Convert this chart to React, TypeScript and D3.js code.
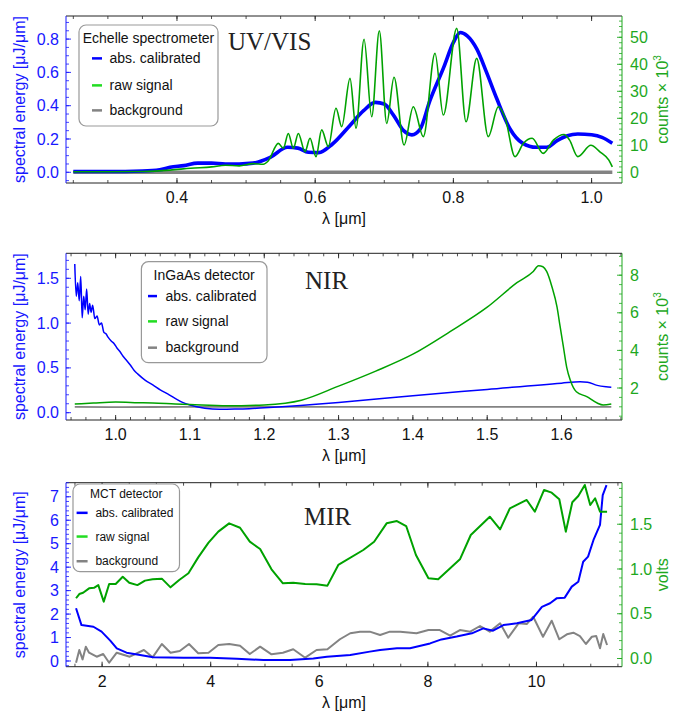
import React from "react";
import * as d3 from "d3";

type Pt = [number, number];

// ---------- UV/VIS (Echelle spectrometer) ----------
const uvCalibrated: Pt[] = [
  [0.25, 0.005], [0.3, 0.005], [0.35, 0.008], [0.375, 0.015], [0.39, 0.03], [0.41, 0.04],
  [0.43, 0.055], [0.45, 0.055], [0.47, 0.05], [0.49, 0.05], [0.51, 0.055], [0.535, 0.09],
  [0.56, 0.15], [0.575, 0.145], [0.59, 0.12], [0.605, 0.118], [0.625, 0.17], [0.65, 0.28],
  [0.67, 0.37], [0.687, 0.42], [0.7, 0.41], [0.713, 0.345], [0.728, 0.25], [0.74, 0.225],
  [0.752, 0.26], [0.766, 0.43], [0.786, 0.63], [0.8, 0.78], [0.81, 0.84], [0.82, 0.82],
  [0.834, 0.74], [0.848, 0.6], [0.863, 0.44], [0.882, 0.26], [0.9, 0.175], [0.92, 0.15],
  [0.935, 0.15], [0.95, 0.19], [0.965, 0.22], [0.98, 0.23], [1.0, 0.225], [1.015, 0.21],
  [1.03, 0.175],
];
const uvRaw: Pt[] = [
  [0.25, 0.2], [0.3, 0.2], [0.35, 0.3], [0.39, 0.8], [0.42, 1.5], [0.45, 2.0], [0.47, 2.6],
  [0.49, 2.4], [0.51, 3.2], [0.525, 3.0], [0.532, 4.2], [0.5467, 10.7], [0.5539, 8.9],
  [0.5611, 14.4], [0.5684, 8.9], [0.5756, 14.4], [0.5853, 7.6], [0.5925, 12.6], [0.6012, 5.8],
  [0.6094, 15.7], [0.619, 9.5], [0.6301, 23.7], [0.6384, 16.9], [0.6504, 34.8], [0.6591, 16.3],
  [0.6707, 49.3], [0.6818, 20.6], [0.6928, 52.4], [0.7035, 18.1], [0.7141, 35.2], [0.7286, 10.1],
  [0.742, 24.3], [0.7565, 13.2], [0.7734, 44.1], [0.7854, 21.2], [0.8048, 53.3], [0.8183, 18.7],
  [0.8337, 42.2], [0.8505, 13.2], [0.865, 24.3], [0.875, 20.0], [0.8892, 5.8], [0.9012, 10.7],
  [0.914, 12.6], [0.93, 7.0], [0.945, 12.0], [0.96, 14.0], [0.968, 12.0], [0.98, 5.8],
  [0.999, 10.0], [1.012, 7.6], [1.025, 4.5], [1.03, 2.0],
];
const uvBackground: Pt[] = [[0.25, 0], [0.4, 0], [0.6, 0], [0.8, 0], [1.03, 0]];

// ---------- NIR (InGaAs detector) ----------
const nirCalibrated: Pt[] = [
  [0.945, 1.66], [0.947, 1.3], [0.949, 1.45], [0.951, 1.25], [0.953, 1.52], [0.955, 1.06],
  [0.957, 1.3], [0.959, 1.15], [0.961, 1.38], [0.963, 1.1], [0.965, 1.22], [0.967, 1.12],
  [0.969, 1.2], [0.972, 1.05], [0.975, 1.08], [0.978, 0.98], [0.981, 1.0], [0.984, 0.9],
  [0.987, 0.88], [0.99, 0.84], [0.994, 0.8], [0.998, 0.77], [1.002, 0.72], [1.006, 0.68],
  [1.01, 0.63], [1.015, 0.58], [1.02, 0.53], [1.025, 0.47], [1.03, 0.43], [1.04, 0.36],
  [1.05, 0.31], [1.06, 0.255], [1.07, 0.21], [1.08, 0.16], [1.09, 0.115], [1.1, 0.085],
  [1.12, 0.05], [1.14, 0.038], [1.16, 0.04], [1.18, 0.045], [1.2, 0.055], [1.3, 0.115],
  [1.4, 0.19], [1.5, 0.26], [1.6, 0.33], [1.625, 0.345], [1.635, 0.34], [1.648, 0.305],
  [1.66, 0.29], [1.667, 0.285],
];
const nirRaw: Pt[] = [
  [0.945, 1.15], [0.97, 1.2], [1.0, 1.25], [1.03, 1.22], [1.05, 1.2], [1.08, 1.15], [1.1, 1.12],
  [1.15, 1.05], [1.2, 1.1], [1.25, 1.35], [1.3, 2.1], [1.35, 2.9], [1.4, 3.8], [1.45, 5.0],
  [1.5, 6.3], [1.54, 7.6], [1.562, 8.2], [1.569, 8.5], [1.575, 8.45], [1.58, 8.2], [1.587, 7.4],
  [1.594, 6.3], [1.598, 5.3], [1.6025, 4.2], [1.607, 3.1], [1.612, 2.4], [1.62, 1.8],
  [1.634, 1.54], [1.648, 1.2], [1.656, 1.1], [1.667, 1.15],
];
const nirBackground: Pt[] = [
  [0.945, 1.0], [1.0, 0.98], [1.1, 1.0], [1.2, 1.0], [1.3, 1.0], [1.4, 1.0], [1.5, 1.0],
  [1.6, 1.0], [1.667, 1.0],
];

// ---------- MIR (MCT detector) ----------
const mirCalibrated: Pt[] = [
  [1.52, 2.25], [1.62, 1.53], [1.84, 1.46], [1.99, 1.25], [2.15, 0.87], [2.27, 0.54],
  [2.45, 0.355], [2.7, 0.256], [2.94, 0.157], [3.5, 0.14], [3.99, 0.14], [4.48, 0.1],
  [4.97, 0.04], [5.46, 0.04], [5.89, 0.11], [6.14, 0.18], [6.57, 0.26], [6.93, 0.4],
  [7.12, 0.47], [7.43, 0.54], [7.67, 0.54], [8.04, 0.75], [8.25, 0.92], [8.53, 1.04],
  [8.81, 1.18], [9.02, 1.39], [9.2, 1.29], [9.39, 1.53], [9.64, 1.61], [9.91, 1.75],
  [10.1, 2.31], [10.25, 2.46], [10.37, 2.67], [10.52, 2.7], [10.65, 3.17], [10.77, 3.38],
  [10.86, 4.23], [10.95, 4.45], [11.05, 5.16], [11.17, 5.8], [11.22, 7.07], [11.29, 7.5],
];
const mirRaw: Pt[] = [
  [1.52, 0.673], [1.58, 0.72], [1.65, 0.735], [1.76, 0.784], [1.85, 0.79], [1.93, 0.82],
  [2.03, 0.635], [2.13, 0.832], [2.25, 0.832], [2.38, 0.914], [2.5, 0.847], [2.65, 0.82],
  [2.79, 0.87], [2.93, 0.885], [3.1, 0.892], [3.26, 0.795], [3.42, 0.877], [3.59, 0.952],
  [3.77, 1.13], [3.96, 1.294], [4.14, 1.417], [4.34, 1.51], [4.54, 1.461], [4.72, 1.305],
  [4.91, 1.223], [5.12, 0.997], [5.33, 0.84], [5.52, 0.847], [5.74, 0.832], [5.95, 0.829],
  [6.15, 0.814], [6.35, 1.045], [6.81, 1.212], [7.01, 1.305], [7.24, 1.51], [7.43, 1.536],
  [7.6, 1.48], [7.78, 1.156], [8.01, 0.896], [8.19, 0.885], [8.59, 1.108], [8.79, 1.38],
  [9.14, 1.584], [9.33, 1.443], [9.51, 1.678], [9.82, 1.771], [9.97, 1.64], [10.14, 1.883],
  [10.28, 1.853], [10.42, 1.779], [10.54, 1.417], [10.66, 1.745], [10.77, 1.816],
  [10.89, 1.939], [10.99, 1.715], [11.08, 1.79], [11.17, 1.64], [11.3, 1.64],
];
const mirBackground: Pt[] = [
  [1.52, -0.047], [1.58, 0.095], [1.64, -0.01], [1.7, 0.132], [1.76, 0.065], [1.9, 0.02],
  [2.02, 0.05], [2.13, -0.047], [2.27, 0.065], [2.51, 0.02], [2.77, 0.095], [2.93, 0.013],
  [3.1, 0.162], [3.26, 0.065], [3.43, 0.084], [3.6, 0.162], [3.77, 0.058], [3.96, 0.065],
  [4.14, 0.151], [4.34, 0.162], [4.54, 0.143], [4.72, 0.05], [4.91, 0.132], [5.12, 0.047],
  [5.33, 0.065], [5.52, 0.103], [5.74, 0.009], [5.95, 0.095], [6.15, 0.103], [6.38, 0.215],
  [6.57, 0.282], [6.75, 0.3], [6.93, 0.3], [7.12, 0.262], [7.3, 0.3], [7.49, 0.3],
  [7.79, 0.282], [8.01, 0.318], [8.22, 0.318], [8.41, 0.255], [8.59, 0.318], [8.78, 0.3],
  [8.96, 0.363], [9.14, 0.3], [9.33, 0.393], [9.48, 0.232], [9.67, 0.393], [9.82, 0.385],
  [9.94, 0.467], [10.12, 0.243], [10.28, 0.422], [10.42, 0.215], [10.56, 0.27], [10.68, 0.288],
  [10.8, 0.251], [10.91, 0.162], [11.02, 0.243], [11.1, 0.251], [11.17, 0.114], [11.23, 0.274],
  [11.3, 0.151],
];

// ---------- ticks & labels ----------
const uvXTicks = [0.4, 0.6, 0.8, 1.0];
const uvLeftTicks = [0, 0.2, 0.4, 0.6, 0.8];
const uvRightTicks = [0, 10, 20, 30, 40, 50];
const nirXTicks = [1.0, 1.1, 1.2, 1.3, 1.4, 1.5, 1.6];
const nirLeftTicks = [0, 0.5, 1.0, 1.5];
const nirRightTicks = [2, 4, 6, 8];
const mirXTicks = [2, 4, 6, 8, 10];
const mirLeftTicks = [0, 1, 2, 3, 4, 5, 6, 7];
const mirRightTicks = [0, 0.5, 1.0, 1.5];
const legendLabels = ["abs. calibrated", "raw signal", "background"];

const BLUE = "#0000ff";
const BLUE_AX = "#1818ff";
const GREEN = "#00a200";
const GREEN_AX = "#1ea81e";
const GREEN_SW = "#22dd22";
const GREY = "#838383";
const SANS = "'Liberation Sans', Arial, sans-serif";
const SERIF = "'Liberation Serif', 'Times New Roman', serif";

const L = 66;
const R = 622;

interface Cfg {
  id: string;
  top: number;
  bottom: number;
  xDomain: [number, number];
  leftDomain: [number, number];
  rightDomain: [number, number];
  xTicks: number[];
  xMinor: number;
  xFmt: string;
  leftTicks: number[];
  leftMinor: number;
  leftFmt: string;
  rightTicks: number[];
  rightMinor: number;
  rightFmt: string;
  rightTitle: "counts" | "volts";
  calibrated: Pt[];
  raw: Pt[];
  background: Pt[];
  widths: [number, number, number];
  legendTitle: string;
  legend: { x: number; y: number; w: number; h: number; titleY: number; rows: number[]; sw: [number, number]; tx: number; font: number };
  label: string;
  labelPos: [number, number];
}

const panels: Cfg[] = [
  {
    id: "uv", top: 16, bottom: 183,
    xDomain: [0.2394, 1.044], leftDomain: [-0.0643, 0.9387], rightDomain: [-3.96, 57.89],
    xTicks: uvXTicks, xMinor: 0.05, xFmt: ".1f",
    leftTicks: uvLeftTicks, leftMinor: 0.05, leftFmt: ".1f",
    rightTicks: uvRightTicks, rightMinor: 2, rightFmt: "d",
    rightTitle: "counts",
    calibrated: uvCalibrated, raw: uvRaw, background: uvBackground,
    widths: [3.6, 1.6, 3.6],
    legendTitle: "Echelle spectrometer",
    legend: { x: 79, y: 25, w: 139, h: 101, titleY: 43, rows: [63, 90, 115], sw: [92, 102], tx: 109.5, font: 14 },
    label: "UV/VIS", labelPos: [228, 50],
  },
  {
    id: "nir", top: 253.3, bottom: 420,
    xDomain: [0.9332, 1.6814], leftDomain: [-0.0815, 1.779], rightDomain: [0.298, 9.165],
    xTicks: nirXTicks, xMinor: 0.02, xFmt: ".1f",
    leftTicks: nirLeftTicks, leftMinor: 0.1, leftFmt: ".1f",
    rightTicks: nirRightTicks, rightMinor: 0.5, rightFmt: "d",
    rightTitle: "counts",
    calibrated: nirCalibrated, raw: nirRaw, background: nirBackground,
    widths: [1.5, 1.5, 1.8],
    legendTitle: "InGaAs detector",
    legend: { x: 141.4, y: 261.7, w: 125.6, h: 101, titleY: 280, rows: [300.7, 326, 352.3], sw: [148, 157], tx: 165.5, font: 14 },
    label: "NIR", labelPos: [305, 288.5],
  },
  {
    id: "mir", top: 482.7, bottom: 666.7,
    xDomain: [1.335, 11.575], leftDomain: [-0.243, 7.6], rightDomain: [-0.0916, 1.964],
    xTicks: mirXTicks, xMinor: 0.5, xFmt: "d",
    leftTicks: mirLeftTicks, leftMinor: 0.2, leftFmt: "d",
    rightTicks: mirRightTicks, rightMinor: 0.1, rightFmt: ".1f",
    rightTitle: "volts",
    calibrated: mirCalibrated, raw: mirRaw, background: mirBackground,
    widths: [2, 2, 2],
    legendTitle: "MCT detector",
    legend: { x: 73, y: 484, w: 106.5, h: 87.7, titleY: 497.8, rows: [516.8, 540.5, 565.2], sw: [76.6, 87.6], tx: 95.4, font: 12 },
    label: "MIR", labelPos: [304, 525],
  },
];

function minorTicks(domain: [number, number], step: number): number[] {
  const out: number[] = [];
  const a = Math.ceil(domain[0] / step - 1e-9);
  const b = Math.floor(domain[1] / step + 1e-9);
  for (let k = a; k <= b; k++) out.push(Math.round(k * step * 1e6) / 1e6);
  return out;
}

function Panel({ c }: { c: Cfg }) {
  const x = d3.scaleLinear().domain(c.xDomain).range([L, R]);
  const yL = d3.scaleLinear().domain(c.leftDomain).range([c.bottom, c.top]);
  const yR = d3.scaleLinear().domain(c.rightDomain).range([c.bottom, c.top]);
  const lineL = d3.line<Pt>().x((d) => x(d[0])).y((d) => yL(d[1])).curve(d3.curveMonotoneX);
  const lineR = d3.line<Pt>().x((d) => x(d[0])).y((d) => yR(d[1])).curve(d3.curveMonotoneX);
  const lineRLin = d3.line<Pt>().x((d) => x(d[0])).y((d) => yR(d[1]));
  const lineLLin = d3.line<Pt>().x((d) => x(d[0])).y((d) => yL(d[1]));
  const fx = d3.format(c.xFmt);
  const fl = d3.format(c.leftFmt);
  const fr = d3.format(c.rightFmt);
  const MAJ = 5;
  const MIN = 3;
  const midY = (c.top + c.bottom) / 2;
  const clipId = "clip-" + c.id;
  const isMir = c.id === "mir";
  return (
    <g>
      <defs>
        <clipPath id={clipId}>
          <rect x={L} y={c.top} width={R - L} height={c.bottom - c.top} />
        </clipPath>
      </defs>
      <g clipPath={`url(#${clipId})`} fill="none" strokeLinejoin="round">
        <path d={(isMir ? lineRLin : lineR)(c.background) || ""} stroke={GREY} strokeWidth={c.widths[2]} />
        <path d={(isMir ? lineLLin : lineL)(c.calibrated) || ""} stroke={BLUE} strokeWidth={c.widths[0]} />
        <path d={(isMir ? lineRLin : lineR)(c.raw) || ""} stroke={GREEN} strokeWidth={c.widths[1]} />
      </g>
      {/* frame */}
      <line x1={L} x2={R} y1={c.top} y2={c.top} stroke="#222" strokeWidth={1} />
      <line x1={L} x2={R} y1={c.bottom} y2={c.bottom} stroke="#222" strokeWidth={1} />
      <line x1={L} x2={L} y1={c.top} y2={c.bottom} stroke={BLUE_AX} strokeWidth={1} />
      <line x1={R} x2={R} y1={c.top} y2={c.bottom} stroke={GREEN_AX} strokeWidth={1} />
      {/* x ticks */}
      {minorTicks(c.xDomain, c.xMinor).map((t, i) => (
        <g key={"xm" + i} stroke="#222" strokeWidth={0.8}>
          <line x1={x(t)} x2={x(t)} y1={c.bottom} y2={c.bottom - MIN} />
          <line x1={x(t)} x2={x(t)} y1={c.top} y2={c.top + MIN} />
        </g>
      ))}
      {c.xTicks.map((t, i) => (
        <g key={"x" + i}>
          <line x1={x(t)} x2={x(t)} y1={c.bottom} y2={c.bottom - MAJ} stroke="#222" strokeWidth={0.9} />
          <line x1={x(t)} x2={x(t)} y1={c.top} y2={c.top + MAJ} stroke="#222" strokeWidth={0.9} />
          <text x={x(t)} y={c.bottom + 20} textAnchor="middle" fontSize={16} fill="#111" fontFamily={SANS}>
            {fx(t)}
          </text>
        </g>
      ))}
      {/* left ticks */}
      {minorTicks(c.leftDomain, c.leftMinor).map((t, i) => (
        <line key={"lm" + i} x1={L} x2={L + MIN} y1={yL(t)} y2={yL(t)} stroke={BLUE_AX} strokeWidth={0.8} />
      ))}
      {c.leftTicks.map((t, i) => (
        <g key={"l" + i}>
          <line x1={L} x2={L + MAJ} y1={yL(t)} y2={yL(t)} stroke={BLUE_AX} strokeWidth={0.9} />
          <text x={L - 7} y={yL(t)} dy="0.35em" textAnchor="end" fontSize={16} fill={BLUE_AX} fontFamily={SANS}>
            {fl(t)}
          </text>
        </g>
      ))}
      {/* right ticks */}
      {minorTicks(c.rightDomain, c.rightMinor).map((t, i) => (
        <line key={"rm" + i} x1={R} x2={R - MIN} y1={yR(t)} y2={yR(t)} stroke={GREEN_AX} strokeWidth={0.8} />
      ))}
      {c.rightTicks.map((t, i) => (
        <g key={"r" + i}>
          <line x1={R} x2={R - MAJ} y1={yR(t)} y2={yR(t)} stroke={GREEN_AX} strokeWidth={0.9} />
          <text x={R + 8} y={yR(t)} dy="0.35em" textAnchor="start" fontSize={16} fill={GREEN_AX} fontFamily={SANS}>
            {fr(t)}
          </text>
        </g>
      ))}
      {/* axis titles */}
      <text x={(L + R) / 2} y={c.bottom + 41} textAnchor="middle" fontSize={16} fill="#111" fontFamily={SANS}>
        λ [μm]
      </text>
      <text transform={`translate(25,${midY}) rotate(-90)`} textAnchor="middle" fontSize={16} fill={BLUE_AX} fontFamily={SANS}>
        spectral energy [μJ/μm]
      </text>
      <text transform={`translate(667.5,${midY}) rotate(-90)`} textAnchor="middle" fontSize={16} fill={GREEN_AX} fontFamily={SANS}>
        {c.rightTitle === "counts" ? (
          <>
            counts × 10<tspan dy="-7" fontSize={10}>3</tspan>
          </>
        ) : (
          "volts"
        )}
      </text>
      {/* legend */}
      <rect x={c.legend.x} y={c.legend.y} width={c.legend.w} height={c.legend.h} rx={7} ry={7} fill="#fff" stroke="#999" strokeWidth={1.2} />
      <text x={c.legend.x + c.legend.w / 2} y={c.legend.titleY} textAnchor="middle" fontSize={c.legend.font} fill="#111" fontFamily={SANS}>
        {c.legendTitle}
      </text>
      {legendLabels.map((lab, i) => (
        <g key={"lg" + i}>
          <line x1={c.legend.sw[0]} x2={c.legend.sw[1]} y1={c.legend.rows[i] - c.legend.font * 0.33} y2={c.legend.rows[i] - c.legend.font * 0.33}
            stroke={[BLUE, GREEN_SW, GREY][i]} strokeWidth={2.5} />
          <text x={c.legend.tx} y={c.legend.rows[i]} fontSize={c.legend.font} fill="#111" fontFamily={SANS}>
            {lab}
          </text>
        </g>
      ))}
      {/* panel label */}
      <text x={c.labelPos[0]} y={c.labelPos[1]} fontSize={25} fill="#222" fontFamily={SERIF}>
        {c.label}
      </text>
    </g>
  );
}

export default function App() {
  return (
    <svg width={683} height={714} viewBox="0 0 683 714"
      style={{ position: "absolute", left: 0, top: 0, background: "#fff", display: "block" }}>
      <rect x={0} y={0} width={683} height={714} fill="#fff" />
      {panels.map((c) => (
        <Panel key={c.id} c={c} />
      ))}
    </svg>
  );
}
